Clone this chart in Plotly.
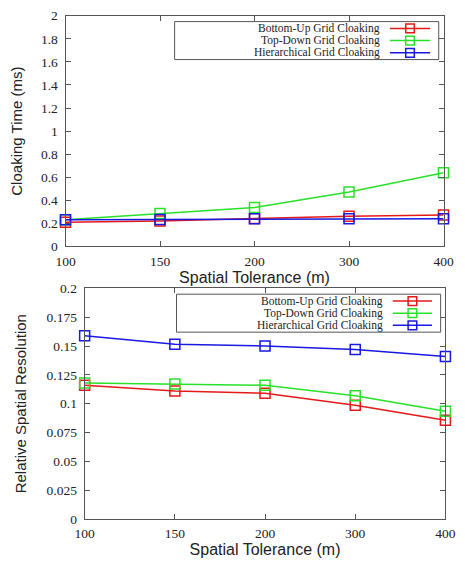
import plotly.graph_objects as go

W, H = 465, 567

tolerance = ["100", "150", "200", "300", "400"]
series_names = ["Bottom-Up Grid Cloaking", "Top-Down Grid Cloaking", "Hierarchical Grid Cloaking"]
colors = ["rgb(230,25,25)", "rgb(40,225,40)", "rgb(25,25,225)"]

time_bottom_up = [0.21, 0.222, 0.243, 0.262, 0.272]
time_top_down = [0.232, 0.287, 0.338, 0.473, 0.639]
time_hierarchical = [0.232, 0.234, 0.241, 0.241, 0.241]

res_bottom_up = [0.116, 0.111, 0.109, 0.0986, 0.0856]
res_top_down = [0.118, 0.117, 0.116, 0.107, 0.0935]
res_hierarchical = [0.1589, 0.1515, 0.150, 0.147, 0.141]

def px(x):
    return x / W

def py(y):
    return 1 - y / H

fig = go.Figure()

for vals, name, col in zip([time_bottom_up, time_top_down, time_hierarchical], series_names, colors):
    fig.add_trace(go.Scatter(x=tolerance, y=vals, name=name, mode="lines+markers",
                             line=dict(color=col, width=1.5),
                             marker=dict(symbol="square-open", size=10, color=col, line=dict(width=1.5, color=col)),
                             cliponaxis=False, showlegend=False, xaxis="x", yaxis="y"))
for vals, name, col in zip([res_bottom_up, res_top_down, res_hierarchical], series_names, colors):
    fig.add_trace(go.Scatter(x=tolerance, y=vals, name=name, mode="lines+markers",
                             line=dict(color=col, width=1.5),
                             marker=dict(symbol="square-open", size=10, color=col, line=dict(width=1.5, color=col)),
                             cliponaxis=False, showlegend=False, xaxis="x2", yaxis="y2"))

tick_font = dict(family="Liberation Serif", size=13.5, color="#222")
title_font_x = dict(family="Liberation Sans", size=16, color="#222")
title_font_y = dict(family="Liberation Sans", size=15, color="#222")

common_x = dict(type="category", range=[0, 4], showline=True, mirror="ticks", linecolor="#555",
                linewidth=1, ticks="inside", ticklen=5, tickcolor="#555", showgrid=False,
                tickfont=tick_font, zeroline=False, ticklabelstandoff=2)
common_y = dict(showline=True, mirror="ticks", linecolor="#555", linewidth=1, ticks="inside",
                ticklen=5, tickcolor="#555", showgrid=False, tickfont=tick_font, zeroline=False,
                ticklabelstandoff=4)

fig.update_layout(
    width=W, height=H,
    margin=dict(l=0, r=0, t=0, b=0),
    paper_bgcolor="white", plot_bgcolor="white",
    xaxis=dict(common_x, domain=[px(58), px(453)], anchor="y",
               title=dict(text="Spatial Tolerance (m)", font=title_font_x, standoff=2)),
    yaxis=dict(common_y, domain=[py(246), py(9)], anchor="x", range=[0, 2], dtick=0.2,
               title=dict(text="Cloaking Time (ms)", font=title_font_y, standoff=14)),
    xaxis2=dict(common_x, domain=[px(78), px(455)], anchor="y2",
                title=dict(text="Spatial Tolerance (m)", font=title_font_x, standoff=2)),
    yaxis2=dict(common_y, domain=[py(526), py(289)], anchor="x2", range=[0, 0.2], dtick=0.025,
                title=dict(text="Relative Spatial Resolution", font=title_font_y, standoff=16)),
)

# Gnuplot-style legend boxes (text left, sample right)
legend_font = dict(family="Liberation Serif", size=11.5, color="#222")
shapes = []
annotations = []
for (bx0, bx1, by0, by1, rows, text_right, lx0, lx1) in [
    (172, 448, 15, 54, [22, 34.5, 47], 388, 397, 439),
    (174, 450, 295, 334, [302, 314.5, 327], 391, 400, 441),
]:
    shapes.append(dict(type="rect", xref="paper", yref="paper", x0=px(bx0), x1=px(bx1),
                       y0=py(by1), y1=py(by0), line=dict(color="#555", width=1),
                       fillcolor="white", layer="above"))
    for yy, name, col in zip(rows, series_names, colors):
        annotations.append(dict(text=name, xref="paper", yref="paper", x=px(text_right), y=py(yy),
                                xanchor="right", yanchor="middle", showarrow=False, font=legend_font,
                                borderpad=0))
        shapes.append(dict(type="line", xref="paper", yref="paper", x0=px(lx0), x1=px(lx1),
                           y0=py(yy), y1=py(yy), line=dict(color=col, width=1.5), layer="above"))
        cx = (lx0 + lx1) / 2
        shapes.append(dict(type="rect", xref="paper", yref="paper", x0=px(cx - 4.5), x1=px(cx + 4.5),
                           y0=py(yy + 4.5), y1=py(yy - 4.5), line=dict(color=col, width=1.5),
                           fillcolor="rgba(0,0,0,0)", layer="above"))

fig.update_layout(shapes=shapes, annotations=annotations)

fig.write_html("out.html")
